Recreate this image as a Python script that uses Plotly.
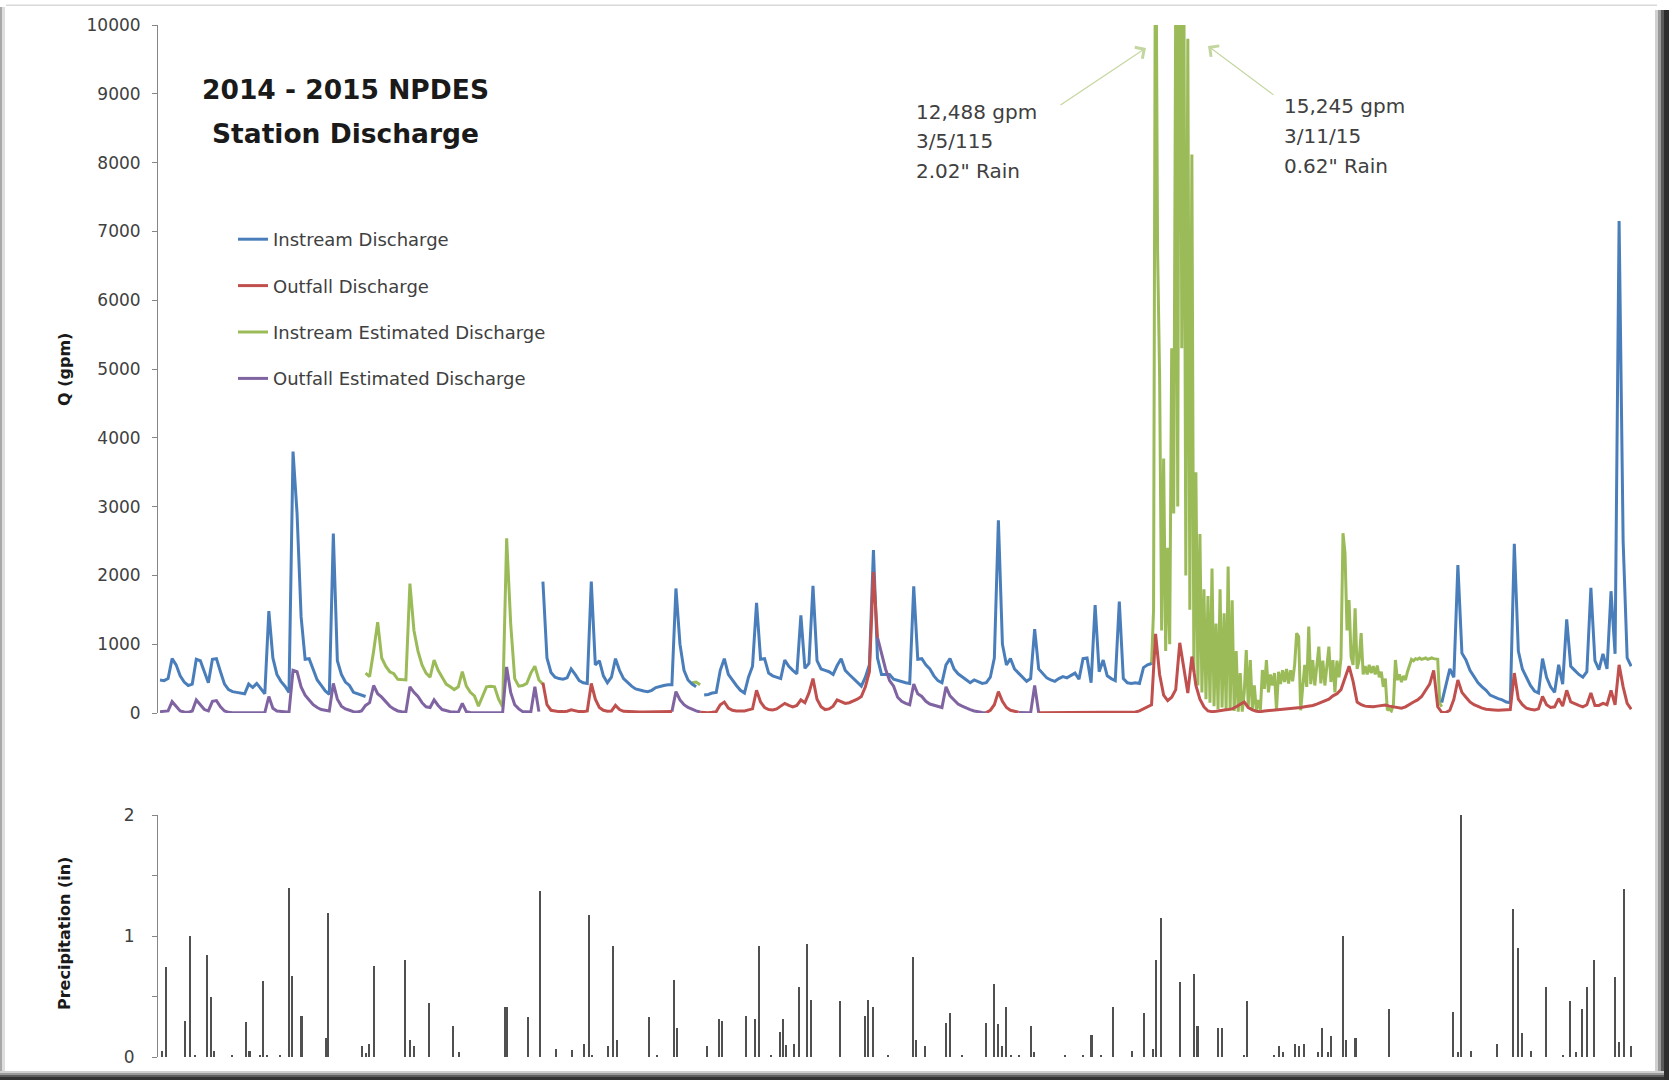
import pandas as pd
import plotly.graph_objects as go

START = pd.Timestamp("2014-07-01")

# ---- Instream Discharge (gpm), daily record pieces: (first day offset, values)
instream_1_start = 0
instream_1 = [480, 470, 500, 790, 700, 540, 450, 400, 420, 780, 760, 600, 440, 780, 790, 600,
              420, 340, 310, 300, 290, 280, 420, 370, 430, 350, 280, 1480, 800, 560, 460, 390,
              300, 3800, 2900, 1400, 780, 790, 640, 480, 400, 320, 270, 2610, 760, 560, 450,
              400, 300, 280, 260, 240]
instream_2_start = 95
instream_2 = [1910, 800, 590, 520, 500, 490, 510, 640, 560, 470, 440, 430, 1910, 700, 760, 540,
              440, 520, 790, 620, 500, 440, 390, 350, 330, 320, 310, 330, 370, 390, 400, 410,
              410, 1810, 1000, 620, 480, 420, 380]
instream_3_start = 135
instream_3 = [262, 270, 290, 300, 620, 790, 560, 470, 400, 330, 290, 520, 680, 1600, 780, 790,
              580, 540, 520, 500, 770, 680, 620, 570, 1420, 650, 720, 1850, 760, 640, 620, 600,
              560, 690, 790, 620, 560, 500, 440, 390, 520, 700, 2370, 800, 560, 560, 560, 490,
              470, 450, 440, 430, 1840, 780, 790, 700, 640, 540, 470, 440, 700, 790, 640, 570,
              530, 490, 440, 480, 450, 430, 440, 520, 800, 2800, 1000, 700, 790, 640, 580, 520,
              460, 500, 1220, 640, 580, 510, 480, 460, 500, 530, 510, 540, 580, 490, 790, 800,
              440, 1570, 600, 770, 540, 500, 470, 1620, 500, 440, 430, 440, 430, 660, 700, 720]
instream_4_start = 318
instream_4 = [150, 380, 640, 520, 2150, 870, 770, 620, 520, 440, 380, 330, 260, 230, 210, 190,
              160, 150, 2460, 900, 640, 520, 400, 320, 290, 790, 520, 380, 300, 700, 420, 1360,
              680, 620, 560, 520, 600, 1820, 760, 630, 860, 640, 1770, 860, 7150, 2500, 800, 680]

# ---- Outfall Discharge (gpm)
outfall_1_start = 95
outfall_1 = [440, 120, 40, 25, 20, 20, 25, 45, 30, 20, 20, 30, 430, 200, 80, 40, 25, 30, 110, 50,
             25, 20, 20, 18, 15, 15, 15, 15, 15, 15, 18, 20, 20]
outfall_2_start = 134
outfall_2 = [10, 5, 5, 10, 20, 120, 160, 70, 40, 30, 25, 30, 45, 60, 330, 160, 80, 50, 45, 60,
             100, 140, 110, 90, 110, 190, 150, 290, 500, 200, 90, 50, 60, 100, 190, 160, 140,
             150, 170, 200, 240, 380, 600, 2050, 1100]
outfall_3_start = 205
outfall_3 = [5, 40, 120, 310, 170, 80, 40, 20, 10]
outfall_4_start = 218
outfall_4 = [5, 5, 5, 5, 5, 8, 5, 5, 5, 5, 5, 8, 10, 5, 5, 5, 5, 5, 8, 5, 5, 5, 5, 10, 15, 30,
             60, 100, 120, 1150, 560, 260, 180, 230, 340, 1020, 680, 290, 820, 400, 200, 90, 30,
             20, 25, 40, 45, 50, 60, 90, 130, 160, 80, 45, 25, 20, 30, 35, 40, 40, 45, 50, 55,
             60, 70, 80, 90, 95, 110, 130, 150, 170, 200, 250, 280, 340, 500, 680, 460, 160,
             120, 100, 95, 90, 100, 110, 115, 100, 90, 75, 70, 90, 130, 160, 190, 240, 330, 420,
             620, 90, 10, 5, 40, 200, 480, 300, 230, 160, 120, 90, 70, 55, 45, 45, 40, 40, 45,
             50, 580, 200, 120, 70, 55, 45, 60, 240, 120, 80, 90, 210, 100, 330, 160, 130, 110,
             90, 120, 290, 110, 110, 140, 120, 330, 120, 700, 380, 140, 55]

# ---- Instream Estimated Discharge (gpm)
instream_est_1_start = 51
instream_est_1 = [580, 530, 900, 1320, 800, 680, 600, 570, 490, 480, 480, 1880, 1200, 900, 700,
                  580, 520, 770, 620, 520, 420, 380, 340, 380, 600, 390, 300, 250, 100, 240, 380,
                  390, 380, 200, 90, 2540, 1300, 500, 390, 400, 430, 580, 680, 480, 420]
instream_est_2_start = 132
instream_est_2 = [440, 450, 410]
# twice-daily readings through the March storms
instream_est_3_start = 246
instream_est_3 = [700, 1500, 12488, 6700, 4900, 1200, 3700, 900, 2400, 1000, 5300, 2900, 10500,
                  3000, 15245, 5300, 11000, 2000, 9800, 1500, 8116, 600, 3500, 400, 2600, 300,
                  1800, 200, 1700, 150, 2100, 100, 1300, 60, 1800, 80, 1450, 50, 2130, 40, 1640,
                  30, 900, 20, 580, 20, 300, 916, 100, 770, 60, 400, 40, 190, 40, 625,
                  350, 770, 300, 560, 400, 580, 40, 600, 420, 620, 450, 640, 430, 620, 460, 700,
                  1160, 1110, 40, 400, 700, 380, 1255, 420, 770, 400, 740, 965, 430, 760, 400,
                  740, 965, 450, 770, 300, 760, 520, 800, 2613, 2320, 1200, 1640, 820, 700, 1520,
                  640, 770, 1160, 560, 680, 560, 700, 580, 680, 560, 690, 520, 600, 380, 500, 40,
                  60, 30, 120, 770, 480, 560, 450, 540, 480, 600, 700, 780, 760, 790, 780, 800,
                  780, 790, 800, 780, 790, 800, 790, 780, 780, 140, 90]

# ---- Outfall Estimated Discharge (gpm)
outfall_est_1_start = 0
outfall_est_1 = [20, 20, 30, 165, 100, 30, 15, 10, 30, 190, 120, 50, 30, 170, 180, 90, 30, 10,
                 5, 5, 5, 5, 5, 5, 5, 5, 5,
                 240, 70, 30, 20, 15, 10, 620, 600, 380, 260, 190, 120, 80, 50, 40, 30, 430, 200,
                 100, 60, 40, 20, 15, 30,
                 110, 150, 400, 280, 230, 160, 100, 60, 30, 20, 15, 380, 300, 240, 150, 90, 80,
                 190, 110, 50, 30, 20, 15, 10, 140, 20,
                 8, 5, 5, 5, 5, 5, 5, 5, 5,
                 670, 300, 120, 60, 20, 20, 15, 380, 20]
outfall_est_2_start = 127
outfall_est_2 = [20, 310, 190, 120, 80, 50, 30, 15]
outfall_est_3_start = 178
outfall_est_3 = [1100, 860, 640, 470, 390, 230, 170, 140, 120, 420, 280, 240, 170, 130, 110, 90,
                 80, 380, 250, 190, 130, 100, 70, 50, 30, 15, 8, 5]
outfall_est_4_start = 213
outfall_est_4 = [8, 5, 5, 5, 400, 5]

# ---- Daily precipitation (in): day offset from START and depth
precip_day = [0.4, 1.5, 6.3, 7.5, 8.7, 11.7, 12.6, 13.3, 17.8, 21.4,
              22.2, 24.7, 25.5, 26.5, 29.7, 32.0, 32.7, 35.1, 41.1, 41.7,
              50.1, 51.0, 51.8, 53.0, 60.7, 62.1, 62.9, 66.8, 72.8, 74.1,
              85.6, 86.2, 91.3, 94.2, 98.2, 102.2, 105.1, 106.4, 107.1, 111.1,
              112.4, 113.3, 121.4, 123.4, 127.4, 128.3, 135.6, 138.6, 139.4, 145.5,
              147.6, 148.5, 151.6, 153.8, 154.6, 155.3, 157.4, 158.5, 160.6, 161.5,
              168.6, 174.9, 175.7, 177.0, 180.5, 186.8, 187.6, 189.9, 195.0, 195.9,
              198.9, 204.9, 206.9, 207.9, 209.0, 210.0, 211.2, 213.2, 216.1, 216.8,
              224.5, 229.1, 231.1, 233.4, 236.5, 241.2, 244.1, 246.3, 247.1, 248.4,
              253.0, 256.6, 257.4, 262.4, 263.4, 269.0, 269.6, 276.5, 277.6, 278.5,
              281.5, 282.5, 283.7, 287.4, 288.2, 289.8, 290.6, 293.5, 294.2, 296.6,
              304.8, 320.7, 322.0, 322.8, 325.3, 331.8, 335.7, 337.0, 337.9, 340.2,
              343.9, 348.1, 349.9, 351.2, 352.8, 354.1, 355.8, 361.0, 361.9, 363.3,
              364.9]
precip_in = [0.05, 0.74, 0.30, 1.00, 0.02, 0.84, 0.50, 0.05, 0.01, 0.29,
             0.05, 0.01, 0.63, 0.01, 0.01, 1.40, 0.67, 0.34, 0.16, 1.19,
             0.09, 0.03, 0.11, 0.75, 0.80, 0.14, 0.09, 0.45, 0.26, 0.04,
             0.41, 0.41, 0.33, 1.37, 0.07, 0.06, 0.11, 1.17, 0.01, 0.09,
             0.92, 0.14, 0.33, 0.01, 0.64, 0.24, 0.09, 0.31, 0.30, 0.34,
             0.31, 0.92, 0.01, 0.21, 0.31, 0.10, 0.11, 0.58, 0.93, 0.47,
             0.46, 0.34, 0.47, 0.41, 0.01, 0.83, 0.14, 0.09, 0.28, 0.36,
             0.01, 0.28, 0.60, 0.27, 0.09, 0.41, 0.01, 0.01, 0.26, 0.04,
             0.02, 0.01, 0.18, 0.01, 0.41, 0.05, 0.36, 0.07, 0.80, 1.15,
             0.62, 0.69, 0.26, 0.24, 0.24, 0.02, 0.46, 0.02, 0.09, 0.04,
             0.11, 0.09, 0.11, 0.04, 0.24, 0.04, 0.17, 1.00, 0.14, 0.16,
             0.40, 0.37, 0.04, 2.00, 0.05, 0.11, 1.22, 0.90, 0.20, 0.05,
             0.58, 0.02, 0.46, 0.04, 0.40, 0.58, 0.80, 0.66, 0.12, 1.39,
             0.09]

series_names = ["Instream Discharge", "Outfall Discharge",
                "Instream Estimated Discharge", "Outfall Estimated Discharge"]
series_colors = ["#4A7EBB", "#C0504D", "#9BBB59", "#8064A2"]


def to_dates(start_day, n, step=1.0):
    return [START + pd.Timedelta(days=start_day + i * step) for i in range(n)]


def join(pieces):
    """Put record pieces on the date axis, breaking the line between them."""
    xs, ys = [], []
    for start, vals, step in pieces:
        if xs:
            xs.append(None)
            ys.append(None)
        xs += to_dates(start, len(vals), step)
        ys += list(vals)
    return xs, ys


instream = join([(instream_1_start, instream_1, 1), (instream_2_start, instream_2, 1),
                 (instream_3_start, instream_3, 1), (instream_4_start, instream_4, 1)])
outfall = join([(outfall_1_start, outfall_1, 1), (outfall_2_start, outfall_2, 1),
                (outfall_3_start, outfall_3, 1), (outfall_4_start, outfall_4, 1)])
instream_est = join([(instream_est_1_start, instream_est_1, 1),
                     (instream_est_2_start, instream_est_2, 1),
                     (instream_est_3_start, instream_est_3, 0.5)])
outfall_est = join([(outfall_est_1_start, outfall_est_1, 1), (outfall_est_2_start, outfall_est_2, 1),
                    (outfall_est_3_start, outfall_est_3, 1), (outfall_est_4_start, outfall_est_4, 1)])

# ---- page geometry (pixels)
W, H = 1669, 1080
ML, MR, MT, MB = 158, 37, 25, 23
PW, PH = W - ML - MR, H - MT - MB


def px(x):
    return (x - ML) / PW


def py(y):
    return (H - MB - y) / PH


FONT = "DejaVu Sans"
TXT = "#404040"
AXC = "#868686"

fig = go.Figure()

# drawing order: estimated instream underneath, outfall lines on top
order = [(2, instream_est), (0, instream), (3, outfall_est), (1, outfall)]
for idx, (xs, ys) in order:
    fig.add_trace(go.Scatter(
        x=xs, y=ys, mode="lines", name=series_names[idx],
        line=dict(color=series_colors[idx], width=3),
        legendgroup=series_names[idx], legendrank=idx + 1,
        xaxis="x", yaxis="y", connectgaps=False,
    ))

fig.add_trace(go.Bar(
    x=[START + pd.Timedelta(days=d) for d in precip_day], y=precip_in,
    width=0.5 * 86400000, marker=dict(color="#505050", line=dict(width=0)),
    showlegend=False, xaxis="x2", yaxis="y2", name="Precipitation",
))

x_range = [START - pd.Timedelta(days=0.5), START + pd.Timedelta(days=365.2)]
hidden_x = dict(range=x_range, showticklabels=False, showline=False, ticks="",
                showgrid=False, zeroline=False, type="date")

fig.update_layout(
    width=W, height=H,
    margin=dict(l=ML, r=MR, t=MT, b=MB),
    paper_bgcolor="white", plot_bgcolor="white",
    font=dict(family=FONT, color=TXT),
    xaxis=dict(domain=[0, 1], anchor="y", **hidden_x),
    xaxis2=dict(domain=[0, 1], anchor="y2", matches="x", **hidden_x),
    yaxis=dict(domain=[py(713), 1], range=[0, 10000], dtick=1000, tickformat="d",
               ticks="outside", ticklen=5, tickcolor=AXC, showline=True, linecolor=AXC,
               linewidth=1, showgrid=False, zeroline=False, ticklabelstandoff=8,
               tickfont=dict(family=FONT, size=17, color=TXT)),
    yaxis2=dict(domain=[0, py(815)], range=[0, 2], tickvals=[0, 0.5, 1, 1.5, 2],
                ticktext=["0", "", "1", "", "2"], ticks="outside", ticklen=5,
                tickcolor=AXC, showline=True, linecolor=AXC, linewidth=1,
                showgrid=False, zeroline=False, ticklabelstandoff=14,
                tickfont=dict(family=FONT, size=17, color=TXT)),
    bargap=0,
    legend=dict(x=px(233), y=py(221), xanchor="left", yanchor="top",
                bgcolor="rgba(0,0,0,0)", traceorder="grouped", tracegroupgap=20,
                font=dict(family=FONT, size=18, color=TXT)),
    showlegend=True,
)


def label(text, x, y, size, color=TXT, xanchor="center", angle=0):
    return dict(text=text, x=px(x), y=py(y), xref="paper", yref="paper",
                xanchor=xanchor, yanchor="middle", showarrow=False, textangle=angle,
                font=dict(size=size, color=color))


ann = []
# chart title
ann.append(label("<b>2014 - 2015 NPDES</b>", 345, 89, 26.5, "#1a1a1a"))
ann.append(label("<b>Station Discharge</b>", 345, 134, 26.5, "#1a1a1a"))
# axis titles
ann.append(label("<b>Q (gpm)</b>", 64, 370, 16, "#1a1a1a", angle=-90))
ann.append(label("<b>Precipitation (in)</b>", 64, 934, 16, "#1a1a1a", angle=-90))
# storm call-outs
left_lines = ["12,488 gpm", "3/5/115", "2.02\" Rain"]
right_lines = ["15,245 gpm", "3/11/15", "0.62\" Rain"]
for t, yy in zip(left_lines, [112, 141, 171]):
    ann.append(label(t, 914, yy, 20, xanchor="left"))
for t, yy in zip(right_lines, [106, 136, 166]):
    ann.append(label(t, 1282, yy, 20, xanchor="left"))
ARROW = "#C4D6A0"
ann.append(dict(text="", x=px(1146), y=py(48), xref="paper", yref="paper", showarrow=True,
                ax=-87, ay=58, arrowhead=4, arrowsize=2.2, arrowwidth=1.2, arrowcolor=ARROW))
ann.append(dict(text="", x=px(1208), y=py(46), xref="paper", yref="paper", showarrow=True,
                ax=67, ay=50, arrowhead=4, arrowsize=2.2, arrowwidth=1.2, arrowcolor=ARROW))
fig.update_layout(annotations=ann)

# outer frame with drop shadow
shapes = []


def rect(x0, y0, x1, y1, color):
    shapes.append(dict(type="rect", xref="paper", yref="paper", x0=px(x0), x1=px(x1),
                       y0=py(y1), y1=py(y0), fillcolor=color, line=dict(width=0),
                       layer="below"))


rect(6, 4.5, 1657, 6, "#d9d9d9")
rect(0, 7, 2, 1074, "#a8a8a8")
rect(2, 7, 5, 1074, "#dedede")
rect(1655, 10, 1658, 1080, "#d0d0d0")
rect(1658, 10, 1661, 1080, "#9a9a9a")
rect(1661, 10, 1664, 1080, "#5a5a5a")
rect(1664, 10, 1669, 1080, "#2e2e2e")
rect(0, 1071, 1664, 1073, "#d0d0d0")
rect(0, 1073, 1664, 1075, "#9a9a9a")
rect(0, 1075, 1664, 1077, "#5e5e5e")
rect(0, 1077, 1664, 1080, "#333333")
fig.update_layout(shapes=shapes)

fig.write_html("out.html")
